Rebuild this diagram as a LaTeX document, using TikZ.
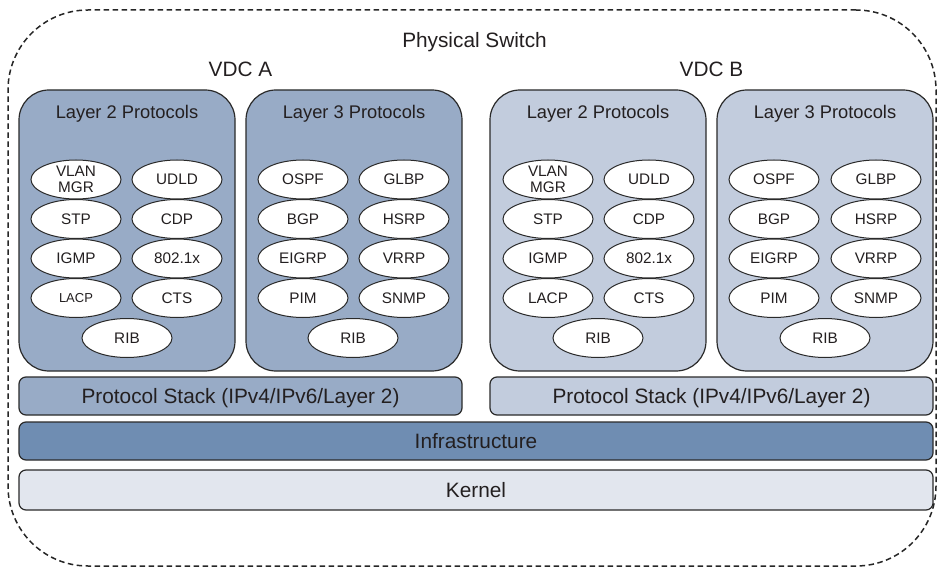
\documentclass[tikz,border=0pt]{standalone}
\usepackage{fontspec}
\setmainfont{Liberation Sans}
\usetikzlibrary{shapes.geometric}
\definecolor{boxA}{HTML}{98ABC6}
\definecolor{boxB}{HTML}{C2CCDD}
\definecolor{infra}{HTML}{6F8DB2}
\definecolor{kern}{HTML}{E2E6EE}
\definecolor{ink}{HTML}{231F20}
\definecolor{edge}{HTML}{2A2A2A}
\begin{document}
\begin{tikzpicture}[x=1pt,y=-1pt,
  every node/.style={text=ink},
  group/.style={draw=edge, line width=1.2pt, rounded corners=30pt, minimum width=216pt, minimum height=281pt, inner sep=0pt},
  bar/.style={draw=edge, line width=1.2pt, rounded corners=7pt, inner sep=0pt, text depth=0pt, text height=14.9pt, font=\fontsize{20.8}{24}\selectfont},
  proto/.style={ellipse, draw=edge, fill=white, line width=1pt, minimum width=90pt, minimum height=39pt, inner sep=0pt, font=\fontsize{15.3}{16}\selectfont, text height=10.95pt, text depth=0pt},
  ttl/.style={anchor=base, font=\fontsize{18.3}{20}\selectfont},
  big/.style={anchor=base, font=\fontsize{20.8}{24}\selectfont}
]
\useasboundingbox (0,0) rectangle (939,569);
\node[draw=black!85, dash pattern=on 5.5pt off 3.5pt, line width=1.5pt, rounded corners=80pt, minimum width=928pt, minimum height=556pt, inner sep=0pt] (frame) at (472,288) {};
\node[big] (phys) at (474.5,48) {Physical Switch};
\node[big] (vdca) at (240.5,77) {VDC A};
\node[big] (vdcb) at (711.5,77) {VDC B};

% group boxes
\node[group, fill=boxA] (al2) at (127,230.5) {};
\node[group, fill=boxA] (al3) at (354,230.5) {};
\node[group, fill=boxB] (bl2) at (598,230.5) {};
\node[group, fill=boxB] (bl3) at (825,230.5) {};
\node[ttl] (al2t) at (127,119) {Layer 2 Protocols};
\node[ttl] (al3t) at (354,119) {Layer 3 Protocols};
\node[ttl] (bl2t) at (598,119) {Layer 2 Protocols};
\node[ttl] (bl3t) at (825,119) {Layer 3 Protocols};

% VDC A layer 2
\node[proto, text height=, text depth=, align=center, font=\fontsize{15.3}{16.5}\selectfont] (a-vlan) at (76,179.5) {VLAN\\MGR};
\node[proto] (a-udld) at (177,179.5) {UDLD};
\node[proto] (a-stp) at (76,219) {STP};
\node[proto] (a-cdp) at (177,219) {CDP};
\node[proto] (a-igmp) at (76,258.5) {IGMP};
\node[proto] (a-dot1x) at (177,258.5) {802.1x};
\node[proto, font=\fontsize{13}{14}\selectfont, text height=9.3pt] (a-lacp) at (76,298) {LACP};
\node[proto] (a-cts) at (177,298) {CTS};
\node[proto] (a-rib2) at (127,338) {RIB};
% VDC A layer 3
\node[proto] (a-ospf) at (303,179.5) {OSPF};
\node[proto] (a-glbp) at (404,179.5) {GLBP};
\node[proto] (a-bgp) at (303,219) {BGP};
\node[proto] (a-hsrp) at (404,219) {HSRP};
\node[proto] (a-eigrp) at (303,258.5) {EIGRP};
\node[proto] (a-vrrp) at (404,258.5) {VRRP};
\node[proto] (a-pim) at (303,298) {PIM};
\node[proto] (a-snmp) at (404,298) {SNMP};
\node[proto] (a-rib3) at (353,338) {RIB};
% VDC B layer 2
\node[proto, text height=, text depth=, align=center, font=\fontsize{15.3}{16.5}\selectfont] (b-vlan) at (548,179.5) {VLAN\\MGR};
\node[proto] (b-udld) at (649,179.5) {UDLD};
\node[proto] (b-stp) at (548,219) {STP};
\node[proto] (b-cdp) at (649,219) {CDP};
\node[proto] (b-igmp) at (548,258.5) {IGMP};
\node[proto] (b-dot1x) at (649,258.5) {802.1x};
\node[proto] (b-lacp) at (548,298) {LACP};
\node[proto] (b-cts) at (649,298) {CTS};
\node[proto] (b-rib2) at (598,338) {RIB};
% VDC B layer 3
\node[proto] (b-ospf) at (774,179.5) {OSPF};
\node[proto] (b-glbp) at (876,179.5) {GLBP};
\node[proto] (b-bgp) at (774,219) {BGP};
\node[proto] (b-hsrp) at (876,219) {HSRP};
\node[proto] (b-eigrp) at (774,258.5) {EIGRP};
\node[proto] (b-vrrp) at (876,258.5) {VRRP};
\node[proto] (b-pim) at (774,298) {PIM};
\node[proto] (b-snmp) at (876,298) {SNMP};
\node[proto] (b-rib3) at (825,338) {RIB};

% bars
\node[bar, fill=boxA, minimum width=443pt, minimum height=38pt] (psa) at (240.5,396) {Protocol Stack (IPv4/IPv6/Layer 2)};
\node[bar, fill=boxB, minimum width=443pt, minimum height=38pt] (psb) at (711.5,396) {Protocol Stack (IPv4/IPv6/Layer 2)};
\node[bar, fill=infra, minimum width=914pt, minimum height=38pt] (infra) at (476,441) {Infrastructure};
\node[bar, fill=kern, minimum width=914pt, minimum height=40pt] (kernel) at (476,490) {Kernel};
\end{tikzpicture}
\end{document}
